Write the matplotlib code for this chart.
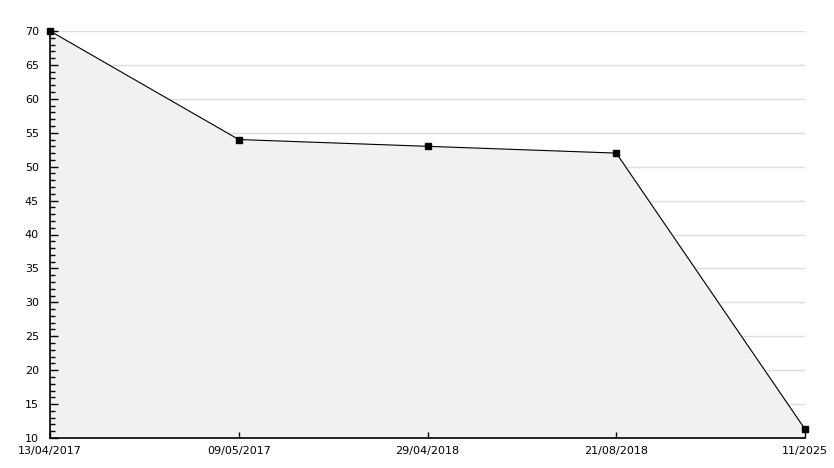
import numpy as np
import matplotlib.pyplot as plt
from matplotlib.ticker import MultipleLocator

# data
dates = ['13/04/2017', '09/05/2017', '29/04/2018', '21/08/2018', '11/2025']
values = [70, 54, 53, 52, 11.3]

fig = plt.figure(figsize=(8.34, 4.68), dpi=100)
ax = fig.add_axes([50 / 834, 30 / 468, 755 / 834, 407 / 468])

x = np.arange(len(dates))
# gridlines sit under the grey fill
for yv in range(15, 75, 5):
    ax.axhline(yv, color='#dddddd', lw=1, zorder=0.5)
ax.fill_between(x, values, 10, color='#f1f1f1', zorder=1)
ax.plot(x, values, color='black', lw=0.8, zorder=3)
ax.plot(x, values, 's', color='black', ms=4, zorder=4, clip_on=False)

ax.set_xlim(0, len(dates) - 1)
ax.set_ylim(10, 70)
ax.set_xticks(x)
ax.set_xticklabels(dates)
ax.yaxis.set_major_locator(MultipleLocator(5))
ax.yaxis.set_minor_locator(MultipleLocator(1))

for s in ['top', 'right']:
    ax.spines[s].set_visible(False)
ax.spines['left'].set_linewidth(1.2)
ax.spines['bottom'].set_linewidth(1.2)

ax.tick_params(axis='y', which='major', direction='in', length=5.5, width=1, labelsize=8, pad=8)
ax.tick_params(axis='y', which='minor', direction='in', length=3.5, width=1)
ax.tick_params(axis='x', direction='in', length=4, width=1, labelsize=8, pad=6)

fig.savefig('out.png', dpi=100)
